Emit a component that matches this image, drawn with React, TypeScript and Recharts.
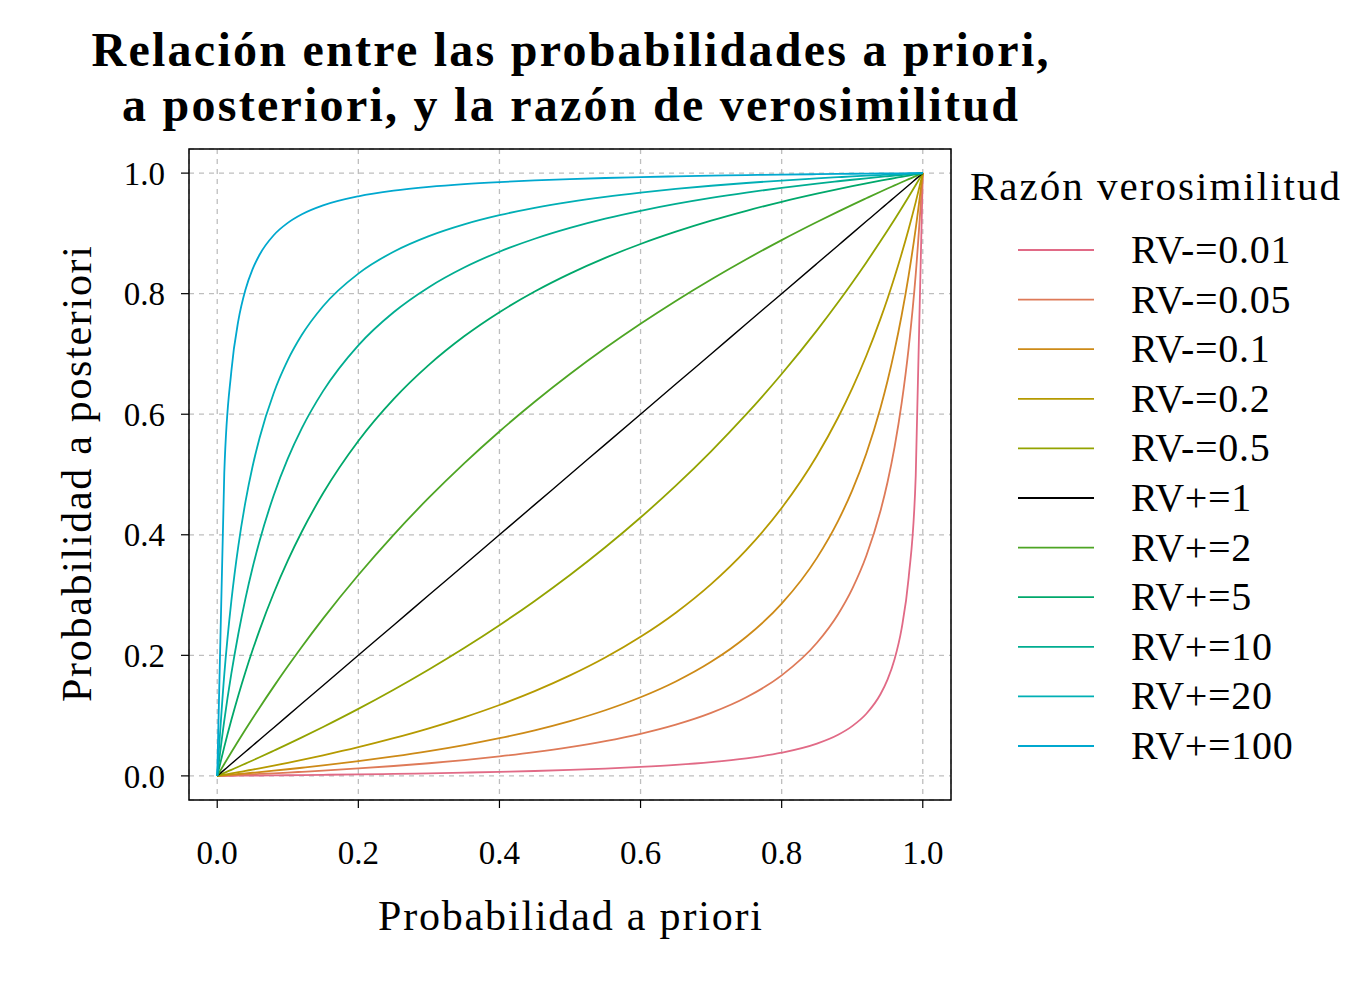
import React from "react";
import { LineChart, Line, XAxis, YAxis, CartesianGrid, ReferenceArea } from "recharts";

// Prior probability grid (x values)
const priorProb = [0, 0.01, 0.02, 0.03, 0.04, 0.05, 0.06, 0.08, 0.1, 0.12, 0.15, 0.2, 0.25, 0.3, 0.35, 0.4, 0.45, 0.5, 0.55, 0.6, 0.65, 0.7, 0.75, 0.8, 0.85, 0.88, 0.9, 0.92, 0.94, 0.95, 0.96, 0.97, 0.98, 0.99, 1];

// Posterior probability for each likelihood ratio
const rvNeg001 = [0, 0.0001, 0.0002, 0.0003, 0.0004, 0.0005, 0.0006, 0.0009, 0.0011, 0.0014, 0.0018, 0.0025, 0.0033, 0.0043, 0.0054, 0.0066, 0.0081, 0.0099, 0.0121, 0.0148, 0.0182, 0.0228, 0.0291, 0.0385, 0.0536, 0.0683, 0.0826, 0.1031, 0.1354, 0.1597, 0.1935, 0.2443, 0.3289, 0.4975, 1];
const rvNeg005 = [0, 0.0005, 0.001, 0.0015, 0.0021, 0.0026, 0.0032, 0.0043, 0.0055, 0.0068, 0.0087, 0.0123, 0.0164, 0.021, 0.0262, 0.0323, 0.0393, 0.0476, 0.0576, 0.0698, 0.085, 0.1045, 0.1304, 0.1667, 0.2208, 0.2683, 0.3103, 0.3651, 0.4393, 0.4872, 0.5455, 0.6178, 0.7101, 0.8319, 1];
const rvNeg01 = [0, 0.001, 0.002, 0.0031, 0.0041, 0.0052, 0.0063, 0.0086, 0.011, 0.0135, 0.0173, 0.0244, 0.0323, 0.0411, 0.0511, 0.0625, 0.0756, 0.0909, 0.1089, 0.1304, 0.1566, 0.1892, 0.2308, 0.2857, 0.3617, 0.4231, 0.4737, 0.5349, 0.6104, 0.6552, 0.7059, 0.7638, 0.8305, 0.9083, 1];
const rvNeg02 = [0, 0.002, 0.0041, 0.0061, 0.0083, 0.0104, 0.0126, 0.0171, 0.0217, 0.0265, 0.0341, 0.0476, 0.0625, 0.0789, 0.0972, 0.1176, 0.1406, 0.1667, 0.1964, 0.2308, 0.2708, 0.3182, 0.375, 0.4444, 0.5312, 0.5946, 0.6429, 0.697, 0.7581, 0.7917, 0.8276, 0.8661, 0.9074, 0.9519, 1];
const rvNeg05 = [0, 0.005, 0.0101, 0.0152, 0.0204, 0.0256, 0.0309, 0.0417, 0.0526, 0.0638, 0.0811, 0.1111, 0.1429, 0.1765, 0.2121, 0.25, 0.2903, 0.3333, 0.3793, 0.4286, 0.4815, 0.5385, 0.6, 0.6667, 0.7391, 0.7857, 0.8182, 0.8519, 0.8868, 0.9048, 0.9231, 0.9417, 0.9608, 0.9802, 1];
const rvPos1 = [0, 0.01, 0.02, 0.03, 0.04, 0.05, 0.06, 0.08, 0.1, 0.12, 0.15, 0.2, 0.25, 0.3, 0.35, 0.4, 0.45, 0.5, 0.55, 0.6, 0.65, 0.7, 0.75, 0.8, 0.85, 0.88, 0.9, 0.92, 0.94, 0.95, 0.96, 0.97, 0.98, 0.99, 1];
const rvPos2 = [0, 0.0198, 0.0392, 0.0583, 0.0769, 0.0952, 0.1132, 0.1481, 0.1818, 0.2143, 0.2609, 0.3333, 0.4, 0.4615, 0.5185, 0.5714, 0.6207, 0.6667, 0.7097, 0.75, 0.7879, 0.8235, 0.8571, 0.8889, 0.9189, 0.9362, 0.9474, 0.9583, 0.9691, 0.9744, 0.9796, 0.9848, 0.9899, 0.995, 1];
const rvPos5 = [0, 0.0481, 0.0926, 0.1339, 0.1724, 0.2083, 0.2419, 0.303, 0.3571, 0.4054, 0.4688, 0.5556, 0.625, 0.6818, 0.7292, 0.7692, 0.8036, 0.8333, 0.8594, 0.8824, 0.9028, 0.9211, 0.9375, 0.9524, 0.9659, 0.9735, 0.9783, 0.9829, 0.9874, 0.9896, 0.9917, 0.9939, 0.9959, 0.998, 1];
const rvPos10 = [0, 0.0917, 0.1695, 0.2362, 0.2941, 0.3448, 0.3896, 0.4651, 0.5263, 0.5769, 0.6383, 0.7143, 0.7692, 0.8108, 0.8434, 0.8696, 0.8911, 0.9091, 0.9244, 0.9375, 0.9489, 0.9589, 0.9677, 0.9756, 0.9827, 0.9865, 0.989, 0.9914, 0.9937, 0.9948, 0.9959, 0.9969, 0.998, 0.999, 1];
const rvPos20 = [0, 0.1681, 0.2899, 0.3822, 0.4545, 0.5128, 0.5607, 0.6349, 0.6897, 0.7317, 0.7792, 0.8333, 0.8696, 0.8955, 0.915, 0.9302, 0.9424, 0.9524, 0.9607, 0.9677, 0.9738, 0.979, 0.9836, 0.9877, 0.9913, 0.9932, 0.9945, 0.9957, 0.9968, 0.9974, 0.9979, 0.9985, 0.999, 0.9995, 1];
const rvPos100 = [0, 0.5025, 0.6711, 0.7557, 0.8065, 0.8403, 0.8646, 0.8969, 0.9174, 0.9317, 0.9464, 0.9615, 0.9709, 0.9772, 0.9818, 0.9852, 0.9879, 0.9901, 0.9919, 0.9934, 0.9946, 0.9957, 0.9967, 0.9975, 0.9982, 0.9986, 0.9989, 0.9991, 0.9994, 0.9995, 0.9996, 0.9997, 0.9998, 0.9999, 1];

const seriesNames = ["RV-=0.01", "RV-=0.05", "RV-=0.1", "RV-=0.2", "RV-=0.5", "RV+=1", "RV+=2", "RV+=5", "RV+=10", "RV+=20", "RV+=100"];
const seriesValues = [rvNeg001, rvNeg005, rvNeg01, rvNeg02, rvNeg05, rvPos1, rvPos2, rvPos5, rvPos10, rvPos20, rvPos100];
const seriesColors = ["#E16A86", "#DE7A58", "#CD8A17", "#B59A00", "#93A300", "#000000", "#4EA524", "#00A86B", "#00AD90", "#00AFB5", "#00A8CF"];

const axisTicks = [0, 0.2, 0.4, 0.6, 0.8, 1];
const titleLines = ["Relación entre las probabilidades a priori,", "a posteriori, y la razón de verosimilitud"];
const xLabel = "Probabilidad a priori";
const yLabel = "Probabilidad a posteriori";
const legendTitle = "Razón verosimilitud";

const data = priorProb.map((p, i) => {
  const row: Record<string, number> = { p };
  seriesNames.forEach((n, k) => {
    row[n] = seriesValues[k][i];
  });
  return row;
});

const FONT = "'Liberation Serif', 'Times New Roman', serif";
const W = 1342;
const H = 982;

export default function App() {
  return (
    <div style={{ position: "relative", width: W, height: H, background: "#fff" }}>
      <LineChart
        width={W}
        height={H}
        data={data}
        margin={{ top: 141, right: 399, bottom: 90, left: 81 }}
      >
        <CartesianGrid stroke="#BEBEBE" strokeDasharray="5 5" strokeWidth={1.3} />
        <XAxis
          type="number"
          dataKey="p"
          domain={[-0.04, 1.04]}
          ticks={axisTicks}
          tickFormatter={(v: number) => v.toFixed(1)}
          allowDataOverflow
          axisLine={false}
          tickLine={{ stroke: "#000", strokeWidth: 1.2 }}
          tickSize={8}
          tickMargin={33}
          height={100}
          tick={{ fill: "#000", fontSize: 33, fontFamily: FONT }}
        />
        <YAxis
          type="number"
          domain={[-0.04, 1.04]}
          ticks={axisTicks}
          tickFormatter={(v: number) => v.toFixed(1)}
          allowDataOverflow
          axisLine={false}
          tickLine={{ stroke: "#000", strokeWidth: 1.2 }}
          tickSize={8}
          tickMargin={16}
          width={100}
          tick={{ fill: "#000", fontSize: 33, fontFamily: FONT }}
        />
        {seriesNames.map((n, k) => (
          <Line
            key={n}
            type="monotone"
            dataKey={n}
            stroke={seriesColors[k]}
            strokeWidth={k === 5 ? 1.4 : 1.8}
            dot={false}
            activeDot={false}
            isAnimationActive={false}
          />
        ))}
        <ReferenceArea
          x1={-0.04}
          x2={1.04}
          y1={-0.04}
          y2={1.04}
          fill="none"
          fillOpacity={0}
          stroke="#000"
          strokeWidth={1.5}
          ifOverflow="visible"
        />
      </LineChart>
      <svg
        width={W}
        height={H}
        style={{ position: "absolute", left: 0, top: 0, pointerEvents: "none" }}
        fontFamily={FONT}
      >
        <text x={562} y={58} textAnchor="middle" fontSize={48} fontWeight="bold" textLength={957} lengthAdjust="spacing">
          {titleLines[0]}
        </text>
        <text x={562} y={113} textAnchor="middle" fontSize={48} fontWeight="bold" textLength={896} lengthAdjust="spacing">
          {titleLines[1]}
        </text>
        <text x={562} y={922} textAnchor="middle" fontSize={42} textLength={384} lengthAdjust="spacing">
          {xLabel}
        </text>
        <text
          x={83}
          y={466}
          textAnchor="middle"
          fontSize={42}
          transform="rotate(-90 83 466)"
          textLength={456}
          lengthAdjust="spacing"
        >
          {yLabel}
        </text>
        <text x={962} y={192} fontSize={41} textLength={370} lengthAdjust="spacing">
          {legendTitle}
        </text>
        {seriesNames.map((n, k) => {
          const y = 242 + k * 49.6;
          return (
            <g key={n}>
              <line x1={1010} x2={1086} y1={y} y2={y} stroke={seriesColors[k]} strokeWidth={1.8} />
              <text x={1123} y={y + 13} fontSize={40} letterSpacing={0.7}>
                {n}
              </text>
            </g>
          );
        })}
      </svg>
    </div>
  );
}
